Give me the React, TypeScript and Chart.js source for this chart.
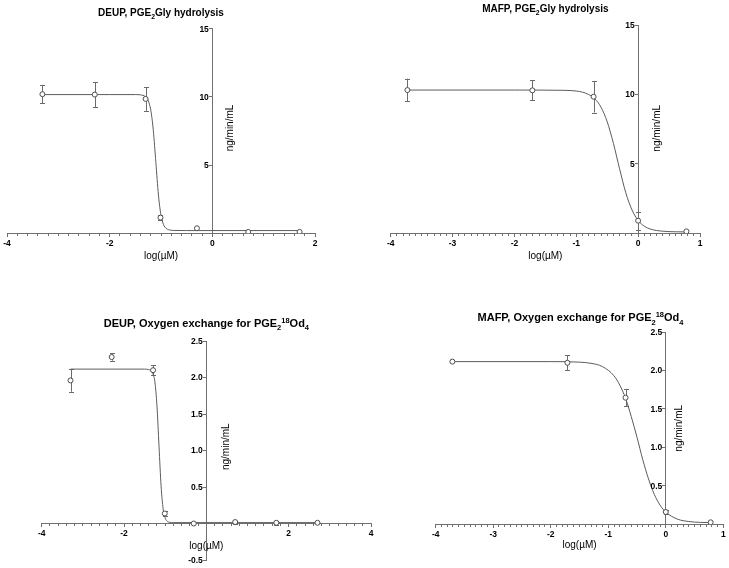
import React, { useEffect, useRef } from "react";
import { Chart, registerables } from "chart.js";

Chart.register(...registerables);

const W = 729;
const H = 568;

// ---------- Panel 1: DEUP, PGE2Gly hydrolysis ----------
const deupHydX = [-3.31, -2.29, -1.3, -1.01, -0.3, 0.7, 1.7];
const deupHydY = [10.2, 10.17, 9.85, 1.15, 0.37, 0.1, 0.1];
const deupHydErr = [0.65, 0.92, 0.87, 0.2, 0, 0, 0];
const deupHydCurveX = [-3.31, -2.0, -1.5, -1.4, -1.3, -1.25, -1.2, -1.15, -1.1, -1.05, -1.0, -0.95, -0.9, -0.85, -0.75, -0.5, 0.5, 1.7];
const deupHydCurveY = [10.17, 10.17, 10.17, 10.15, 10.01, 9.74, 9.05, 7.56, 5.19, 2.81, 1.32, 0.63, 0.36, 0.26, 0.21, 0.2, 0.2, 0.2];

// ---------- Panel 2: MAFP, PGE2Gly hydrolysis ----------
const mafpHydX = [-3.73, -1.71, -0.72, 0.0, 0.78];
const mafpHydY = [10.33, 10.31, 9.85, 0.91, 0.14];
const mafpHydErr = [0.82, 0.71, 1.14, 0.65, 0];
const mafpHydCurveX = [-3.73, -2.0, -1.2, -1.0, -0.9, -0.8, -0.7, -0.6, -0.5, -0.4, -0.3, -0.2, -0.1, 0, 0.1, 0.2, 0.4, 0.6, 0.78];
const mafpHydCurveY = [10.33, 10.33, 10.31, 10.26, 10.18, 10.01, 9.7, 9.09, 8.04, 6.49, 4.65, 2.93, 1.69, 0.93, 0.51, 0.3, 0.15, 0.11, 0.1];

// ---------- Panel 3: DEUP, Oxygen exchange ----------
const deupOxX = [-3.3, -2.3, -1.295, -1.01, -0.306, 0.7, 1.7, 2.7];
const deupOxY = [1.96, 2.28, 2.1, 0.137, 0.0, 0.02, 0.01, 0.01];
const deupOxErr = [0.155, 0.05, 0.07, 0.03, 0, 0.02, 0.03, 0];
const deupOxCurveX = [-3.3, -1.5, -1.4, -1.35, -1.3, -1.25, -1.2, -1.15, -1.1, -1.05, -1.0, -0.95, -0.9, -0.8, 2.7];
const deupOxCurveY = [2.115, 2.115, 2.108, 2.094, 2.052, 1.94, 1.61, 1.06, 0.516, 0.201, 0.074, 0.031, 0.017, 0.012, 0.012];

// ---------- Panel 4: MAFP, Oxygen exchange ----------
const mafpOxX = [-3.71, -1.71, -0.7, 0.0, 0.78];
const mafpOxY = [2.115, 2.1, 1.646, 0.16, 0.026];
const mafpOxErr = [0, 0.095, 0.11, 0.03, 0];
const mafpOxCurveX = [-3.73, -2.0, -1.5, -1.3, -1.1, -0.9, -0.8, -0.7, -0.6, -0.5, -0.4, -0.3, -0.2, -0.1, 0, 0.2, 0.4, 0.6, 0.78];
const mafpOxCurveY = [2.115, 2.115, 2.108, 2.093, 2.05, 1.93, 1.81, 1.64, 1.4, 1.13, 0.84, 0.59, 0.39, 0.25, 0.159, 0.068, 0.036, 0.025, 0.022];

// ---------- Text ----------
type Seg = { t: string; k?: "sub" | "sup" };
const titleDeupHyd: Seg[] = [{ t: "DEUP, PGE" }, { t: "2", k: "sub" }, { t: "Gly hydrolysis" }];
const titleMafpHyd: Seg[] = [{ t: "MAFP, PGE" }, { t: "2", k: "sub" }, { t: "Gly hydrolysis" }];
const titleDeupOx: Seg[] = [{ t: "DEUP, Oxygen exchange for PGE" }, { t: "2", k: "sub" }, { t: "18", k: "sup" }, { t: "Od" }, { t: "4", k: "sub" }];
const titleMafpOx: Seg[] = [{ t: "MAFP, Oxygen exchange for PGE" }, { t: "2", k: "sub" }, { t: "18", k: "sup" }, { t: "Od" }, { t: "4", k: "sub" }];
const xTitle = "log(µM)";
const yTitle = "ng/min/mL";

const FONT = '"Liberation Sans", Arial, Helvetica, sans-serif';
const AXIS_COLOR = "#707070";
const LINE_COLOR = "#5c5c5c";
const POINT_COLOR = "#4d4d4d";
const ERR_COLOR = "#6a6a6a";
const TICK_FONT = `bold 8.5px ${FONT}`;

type PanelCfg = {
  x: number[]; y: number[]; err: number[]; cx: number[]; cy: number[];
  title: Seg[]; titleSize: number; titleY: number; titleDx: number;
  area: { left: number; right: number; top: number; bottom: number };
  xMin: number; xMax: number; xStep: number; xMajor: number; xZeroLabel: boolean;
  yMin: number; yMax: number; yStep: number; yDec: number;
  yTitleDx: number; yTitleCy: number; xTitleDy: number;
};

const panels: PanelCfg[] = [
  {
    x: deupHydX, y: deupHydY, err: deupHydErr, cx: deupHydCurveX, cy: deupHydCurveY,
    title: titleDeupHyd, titleSize: 10, titleY: 12, titleDx: 0,
    area: { left: 7, right: 315, top: 28.7, bottom: 233.3 },
    xMin: -4, xMax: 2, xStep: 0.2, xMajor: 2, xZeroLabel: true,
    yMin: 0, yMax: 15, yStep: 5, yDec: 0,
    yTitleDx: 18, yTitleCy: 128, xTitleDy: 22.5,
  },
  {
    x: mafpHydX, y: mafpHydY, err: mafpHydErr, cx: mafpHydCurveX, cy: mafpHydCurveY,
    title: titleMafpHyd, titleSize: 10, titleY: 8, titleDx: 0,
    area: { left: 390.7, right: 700, top: 25.3, bottom: 233.3 },
    xMin: -4, xMax: 1, xStep: 0.1, xMajor: 1, xZeroLabel: true,
    yMin: 0, yMax: 15, yStep: 5, yDec: 0,
    yTitleDx: 19, yTitleCy: 128.3, xTitleDy: 22.5,
  },
  {
    x: deupOxX, y: deupOxY, err: deupOxErr, cx: deupOxCurveX, cy: deupOxCurveY,
    title: titleDeupOx, titleSize: 11, titleY: 322.7, titleDx: 0,
    area: { left: 41.7, right: 371, top: 341, bottom: 560 },
    xMin: -4, xMax: 4, xStep: 0.2, xMajor: 2, xZeroLabel: false,
    yMin: -0.5, yMax: 2.5, yStep: 0.5, yDec: 1,
    yTitleDx: 20, yTitleCy: 446.7, xTitleDy: 22.7,
  },
  {
    x: mafpOxX, y: mafpOxY, err: mafpOxErr, cx: mafpOxCurveX, cy: mafpOxCurveY,
    title: titleMafpOx, titleSize: 11, titleY: 317.3, titleDx: 1,
    area: { left: 435.7, right: 723.3, top: 332, bottom: 524.3 },
    xMin: -4, xMax: 1, xStep: 0.1, xMajor: 1, xZeroLabel: true,
    yMin: 0, yMax: 2.5, yStep: 0.5, yDec: 1,
    yTitleDx: 13, yTitleCy: 428.3, xTitleDy: 21,
  },
];

function drawRich(ctx: CanvasRenderingContext2D, segs: Seg[], cx: number, cy: number, size: number) {
  const fontFor = (k?: string) => `bold ${k ? size * 0.68 : size}px ${FONT}`;
  let total = 0;
  const widths = segs.map((s) => {
    ctx.font = fontFor(s.k);
    const w = ctx.measureText(s.t).width;
    total += w;
    return w;
  });
  let x = cx - total / 2;
  ctx.textAlign = "left";
  ctx.textBaseline = "alphabetic";
  ctx.fillStyle = "#000";
  const base = cy + size * 0.36;
  segs.forEach((s, i) => {
    ctx.font = fontFor(s.k);
    const dy = s.k === "sub" ? size * 0.3 : s.k === "sup" ? -size * 0.36 : 0;
    ctx.fillText(s.t, x, base + dy);
    x += widths[i];
  });
}

const near = (a: number, b: number) => Math.abs(a - b) < 1e-6;

function Panel({ cfg }: { cfg: PanelCfg }) {
  const ref = useRef<HTMLCanvasElement | null>(null);
  useEffect(() => {
    const canvas = ref.current!;
    const isMajorX = (v: number) => near(v / cfg.xMajor, Math.round(v / cfg.xMajor));
    const yLabel = (n: number) => (near(n, 0) ? "" : cfg.yDec ? n.toFixed(cfg.yDec) : String(Math.round(n)));
    const deco = {
      id: "deco" + cfg.titleY,
      beforeDatasetsDraw(chart: any) {
        const ctx = chart.ctx as CanvasRenderingContext2D;
        const xs = chart.scales.x;
        const ys = chart.scales.y;
        ctx.save();
        ctx.strokeStyle = ERR_COLOR;
        ctx.lineWidth = 1;
        cfg.x.forEach((xv, i) => {
          const e = cfg.err[i];
          if (!e) return;
          const px = Math.round(xs.getPixelForValue(xv)) + 0.5;
          const y1 = ys.getPixelForValue(cfg.y[i] + e);
          const y2 = ys.getPixelForValue(cfg.y[i] - e);
          ctx.beginPath();
          ctx.moveTo(px, y1);
          ctx.lineTo(px, y2);
          ctx.moveTo(px - 2.5, Math.round(y1) + 0.5);
          ctx.lineTo(px + 2.5, Math.round(y1) + 0.5);
          ctx.moveTo(px - 2.5, Math.round(y2) + 0.5);
          ctx.lineTo(px + 2.5, Math.round(y2) + 0.5);
          ctx.stroke();
        });
        ctx.restore();
      },
      afterDraw(chart: any) {
        const ctx = chart.ctx as CanvasRenderingContext2D;
        const xs = chart.scales.x;
        const ys = chart.scales.y;
        const ca = chart.chartArea;
        const ax = xs.getPixelForValue(0);
        ctx.save();
        // y tick labels, left of the y axis at x = 0
        ctx.font = TICK_FONT;
        ctx.fillStyle = "#000";
        ctx.textAlign = "right";
        ctx.textBaseline = "middle";
        ys.ticks.forEach((t: any) => {
          const s = yLabel(t.value);
          if (s) ctx.fillText(s, ax - 3.5, ys.getPixelForValue(t.value) + 0.5);
        });
        drawRich(ctx, cfg.title, (ca.left + ca.right) / 2 + cfg.titleDx, cfg.titleY, cfg.titleSize);
        ctx.font = `10px ${FONT}`;
        ctx.fillStyle = "#000";
        ctx.textAlign = "center";
        ctx.textBaseline = "middle";
        ctx.fillText(xTitle, (ca.left + ca.right) / 2, ys.getPixelForValue(0) + cfg.xTitleDy);
        ctx.translate(ax + cfg.yTitleDx, cfg.yTitleCy);
        ctx.rotate(-Math.PI / 2);
        ctx.fillText(yTitle, 0, 0);
        ctx.restore();
      },
    };

    const chart = new Chart(canvas, {
      type: "scatter",
      data: {
        datasets: [
          {
            data: cfg.x.map((v, i) => ({ x: v, y: cfg.y[i] })),
            showLine: false,
            pointRadius: 2.5,
            pointBorderWidth: 1,
            pointBackgroundColor: "#ffffff",
            pointBorderColor: POINT_COLOR,
          },
          {
            data: cfg.cx.map((v, i) => ({ x: v, y: cfg.cy[i] })),
            showLine: true,
            pointRadius: 0,
            borderWidth: 1,
            borderColor: LINE_COLOR,
            cubicInterpolationMode: "monotone",
          },
        ],
      } as any,
      options: {
        responsive: false,
        animation: false,
        events: [],
        layout: {
          padding: {
            left: cfg.area.left,
            right: W - cfg.area.right,
            top: cfg.area.top,
            bottom: H - cfg.area.bottom,
          },
        },
        plugins: { legend: { display: false }, tooltip: { enabled: false }, title: { display: false } },
        scales: {
          x: {
            type: "linear",
            position: { y: 0 } as any,
            min: cfg.xMin,
            max: cfg.xMax,
            grid: {
              display: true,
              drawOnChartArea: false,
              drawTicks: true,
              tickLength: 3,
              tickColor: AXIS_COLOR,
              tickWidth: 1,
              tickBorderDash: (c: any) => (c.tick && !isMajorX(c.tick.value) ? [2, 6] : []),
            } as any,
            border: { display: true, color: AXIS_COLOR, width: 1 },
            ticks: {
              stepSize: cfg.xStep,
              maxTicksLimit: 200,
              autoSkip: false,
              maxRotation: 0,
              minRotation: 0,
              padding: 2,
              color: "#000",
              font: { family: FONT, size: 8.5, weight: "bold" },
              callback: (v: any) => {
                const n = Number(v);
                if (!isMajorX(n)) return "";
                const r = Math.round(n);
                if (r === 0 && !cfg.xZeroLabel) return "";
                return String(r);
              },
            },
          },
          y: {
            type: "linear",
            position: { x: 0 } as any,
            min: cfg.yMin,
            max: cfg.yMax,
            grid: {
              display: true,
              drawOnChartArea: false,
              drawTicks: true,
              tickLength: 3,
              tickWidth: 1,
              tickColor: (c: any) => (c.tick && near(c.tick.value, 0) ? "rgba(0,0,0,0)" : AXIS_COLOR),
            } as any,
            border: { display: true, color: AXIS_COLOR, width: 1 },
            ticks: {
              display: false,
              stepSize: cfg.yStep,
              autoSkip: false,
              font: { family: FONT, size: 8.5, weight: "bold" },
            },
          },
        },
      } as any,
      plugins: [deco],
    });
    return () => chart.destroy();
  }, []);
  return (
    <canvas
      ref={ref}
      width={W}
      height={H}
      style={{ position: "absolute", left: 0, top: 0, width: W, height: H }}
    />
  );
}

export default function App() {
  return (
    <div style={{ position: "absolute", left: 0, top: 0, width: W, height: H, background: "#fff" }}>
      {panels.map((p, i) => (
        <Panel key={i} cfg={p} />
      ))}
    </div>
  );
}
